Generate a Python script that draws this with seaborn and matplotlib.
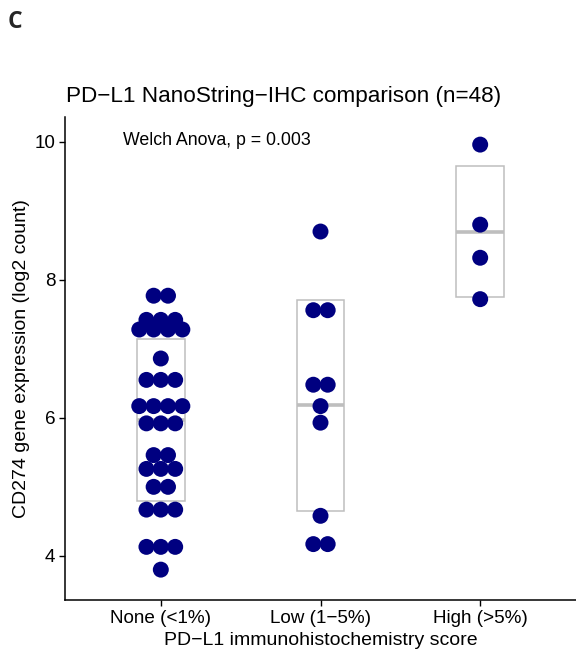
import numpy as np
import pandas as pd
import matplotlib
matplotlib.use("Agg")
import matplotlib.pyplot as plt
from matplotlib.patches import Rectangle
import seaborn as sns

# ---- data ----
categories = ["None (<1%)", "Low (1\u22125%)", "High (>5%)"]
none_vals = [7.77, 7.77,
             7.42, 7.42, 7.42,
             7.28, 7.28, 7.28, 7.28,
             6.86,
             6.55, 6.55, 6.55,
             6.17, 6.17, 6.17, 6.17,
             5.92, 5.92, 5.92,
             5.46, 5.46,
             5.26, 5.26, 5.26,
             5.00, 5.00,
             4.67, 4.67, 4.67,
             4.13, 4.13, 4.13,
             3.80]
low_vals = [8.70, 7.56, 7.56, 6.48, 6.48, 6.17, 5.93, 4.58, 4.17, 4.17]
high_vals = [9.96, 8.80, 8.32, 7.72]
y_ticks = [4, 6, 8, 10]

title = "PD\u2212L1 NanoString\u2212IHC comparison (n=48)"
x_label = "PD\u2212L1 immunohistochemistry score"
y_label = "CD274 gene expression (log2 count)"
annot = "Welch Anova, p = 0.003"

groups = [none_vals, low_vals, high_vals]

# ---- styling ----
sns.set_theme(style="white")
plt.rcParams["font.family"] = ["Liberation Sans", "DejaVu Sans"]

navy = "#000080"
box_col = "#BEBEBE"
dot_w = 0.09   # stack spacing in category units

# build dotplot-style table (centered stacks of identical values)
rows = []
for i, (cat, vals) in enumerate(zip(categories, groups)):
    uniq = []
    for v in vals:
        if v not in uniq:
            uniq.append(v)
    for v in uniq:
        k = vals.count(v)
        for j in range(k):
            rows.append({"score": cat, "value": v, "xpos": i + (j - (k - 1) / 2) * dot_w})
df = pd.DataFrame(rows)

fig = plt.figure(figsize=(5.76, 6.54), dpi=100)
ax = fig.add_axes([65 / 576, 54 / 654, 511 / 576, 483 / 654])

# mean +/- sd boxes
for i, vals in enumerate(groups):
    arr = np.array(vals)
    m = arr.mean()
    sd = arr.std(ddof=1)
    ax.add_patch(Rectangle((i - 0.15, m - sd), 0.3, 2 * sd, fill=False,
                           edgecolor=box_col, linewidth=1.1, zorder=1))
    ax.plot([i - 0.15, i + 0.15], [m, m], color=box_col, linewidth=2.6,
            solid_capstyle="butt", zorder=1)

sns.scatterplot(data=df, x="xpos", y="value", color=navy, s=132,
                edgecolor="none", linewidth=0, ax=ax, zorder=3, legend=False)

ax.set_xlim(-0.6, 2.6)
ax.set_ylim(3.36, 10.36)
ax.set_xticks(range(len(categories)))
ax.set_xticklabels(categories)
ax.set_yticks(y_ticks)
ax.set_yticklabels([str(t) for t in y_ticks])

for side in ["top", "right"]:
    ax.spines[side].set_visible(False)
for side in ["left", "bottom"]:
    ax.spines[side].set_color("black")
    ax.spines[side].set_linewidth(1.1)

ax.tick_params(axis="both", which="major", direction="out", length=4, width=1.0,
               color="black", labelsize=13.6, labelcolor="black", pad=3,
               bottom=True, left=True)

ax.set_xlabel(x_label, fontsize=14, color="black", labelpad=4)
ax.set_ylabel(y_label, fontsize=14, color="black")
ax.yaxis.set_label_coords(-0.068, 0.5)

ax.text(-0.2375, 9.96, annot, fontsize=12.8, color="black",
        ha="left", va="baseline")

fig.text(66 / 576, 1 - 102 / 654, title, fontsize=16.2, color="black",
         ha="left", va="baseline")
fig.text(8 / 576, 1 - 28 / 654, "C", fontsize=16.5, fontweight="bold",
         family=["Open Sans", "DejaVu Sans"], ha="left", va="baseline")

fig.savefig("out.png", dpi=100)
